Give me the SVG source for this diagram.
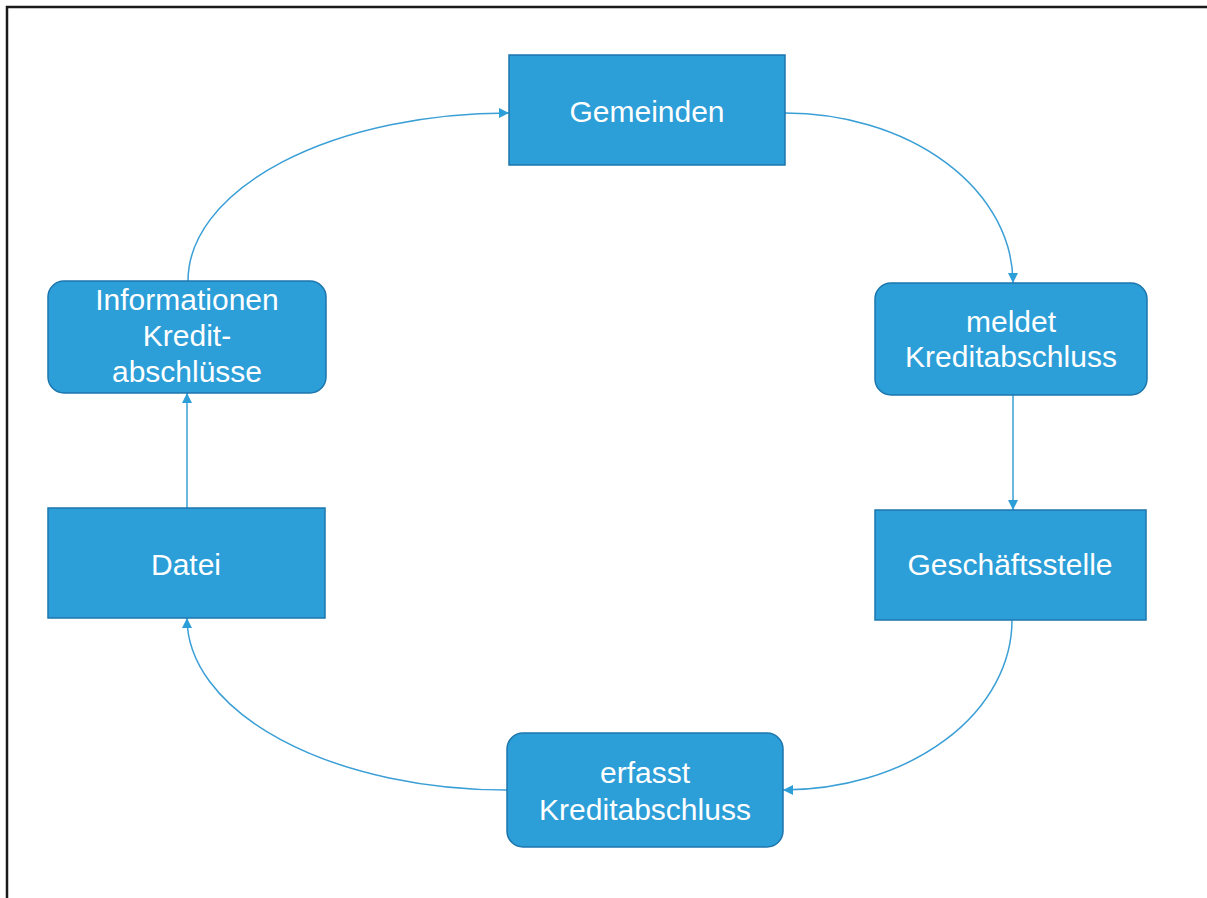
<svg xmlns="http://www.w3.org/2000/svg" width="1207" height="898" viewBox="0 0 1207 898">
<style>
.box{fill:#2c9ed8;stroke:#1c76ad;stroke-width:1.5}
.lbl{font-family:"Liberation Sans",Arial,sans-serif;font-size:30px;fill:#ffffff;text-anchor:middle}
.con{fill:none;stroke:#3a9fd6;stroke-width:1.5;marker-end:url(#arr)}
</style>
<defs>
<marker id="arr" viewBox="0 0 10 10" refX="10" refY="5" markerWidth="10" markerHeight="10" markerUnits="userSpaceOnUse" orient="auto">
<path d="M0,0 L10,5 L0,10 Z" fill="#2c9ed8"/>
</marker>
</defs>
<rect x="0" y="0" width="1207" height="898" fill="#ffffff"/>
<path d="M7,898 V7 H1207" fill="none" stroke="#1a1a1a" stroke-width="2.5"/>
<g id="connectors">
<path class="con" d="M785,113 A228,170 0 0 1 1013,283"/>
<path class="con" d="M1013,395 V510"/>
<path class="con" d="M1012,620 A229,170 0 0 1 783,790"/>
<path class="con" d="M507,790 A320,172 0 0 1 187,618"/>
<path class="con" d="M187,508 V393"/>
<path class="con" d="M188,281 A321,168 0 0 1 509,113"/>
</g>
<g id="gemeinden">
<rect class="box" x="509" y="55" width="276" height="110"/>
<text class="lbl" x="647" y="122">Gemeinden</text>
</g>
<g id="meldet">
<rect class="box" x="875" y="283" width="272" height="112" rx="16"/>
<text class="lbl" x="1011" y="332">meldet</text>
<text class="lbl" x="1011" y="367">Kreditabschluss</text>
</g>
<g id="geschaeftsstelle">
<rect class="box" x="875" y="510" width="271" height="110"/>
<text class="lbl" x="1010" y="575">Geschäftsstelle</text>
</g>
<g id="erfasst">
<rect class="box" x="507" y="733" width="276" height="114" rx="16"/>
<text class="lbl" x="645" y="783">erfasst</text>
<text class="lbl" x="645" y="820">Kreditabschluss</text>
</g>
<g id="datei">
<rect class="box" x="48" y="508" width="277" height="110"/>
<text class="lbl" x="186" y="575">Datei</text>
</g>
<g id="informationen">
<rect class="box" x="48" y="281" width="278" height="112" rx="16"/>
<text class="lbl" x="187" y="310">Informationen</text>
<text class="lbl" x="187" y="346">Kredit-</text>
<text class="lbl" x="187" y="382">abschlüsse</text>
</g>
</svg>
